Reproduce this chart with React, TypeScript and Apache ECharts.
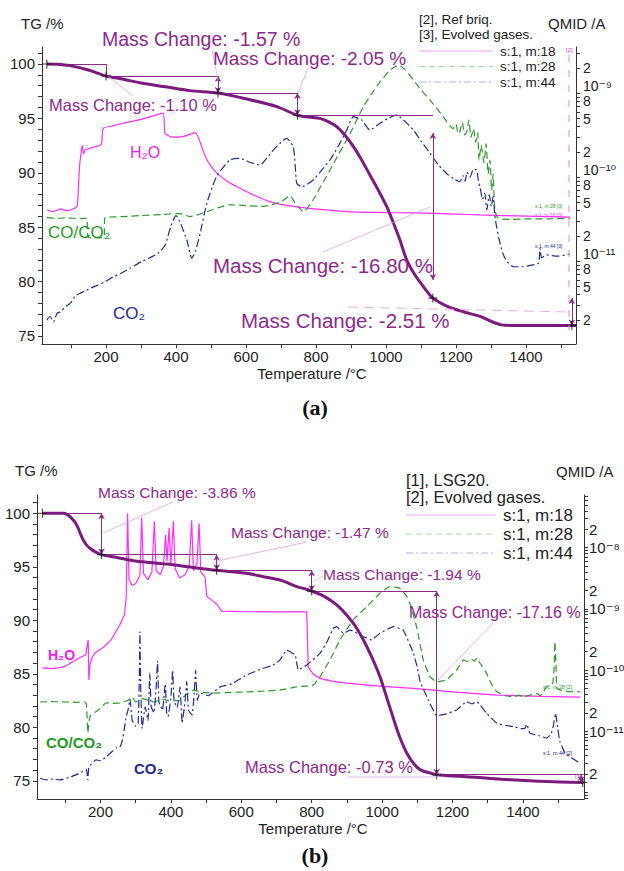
import React, { useEffect, useRef } from 'react';
import * as echarts from 'echarts';

const FONT = '"Liberation Sans", Arial, "DejaVu Sans", sans-serif';

// ---------- Panel (a) data : [temperature °C, value] ----------
const TG_A: [number, number][] = [
  [31, 100], [60, 99.98], [97, 99.85], [150, 99.45], [200, 98.9], [250, 98.6], [300, 98.25], [370, 97.9],
  [440, 97.55], [520, 97.33], [600, 96.8], [688, 96.08], [747, 95.28], [780, 95.12], [811, 95.0], [835, 94.7],
  [859, 94.24], [883, 93.45], [907, 92.4], [930, 91.2], [954, 89.8], [978, 88.4], [1002, 86.9], [1021, 85.4],
  [1040, 83.8], [1059, 82.0], [1083, 80.6], [1110, 79.4], [1134, 78.48], [1177, 77.7], [1223, 77.2],
  [1269, 76.8], [1300, 76.35], [1330, 76.02], [1360, 75.97], [1450, 75.97], [1543, 75.97],
];
const H2O_A: [number, number][] = [
  [31, 4.1e-11], [50, 3.9e-11], [70, 4.2e-11], [90, 4.0e-11], [111, 4.3e-11], [118, 4.6e-11], [124, 1.3e-10],
  [128, 1.84e-10], [132, 2.4e-10], [136, 1.9e-10], [140, 2.1e-10], [160, 2.25e-10], [183, 2.4e-10], [188, 2.6e-10],
  [192, 3.8e-10], [220, 4.1e-10], [250, 4.4e-10], [300, 4.9e-10], [330, 5.3e-10], [363, 5.8e-10], [368, 3.4e-10],
  [380, 3.1e-10], [391, 3.0e-10], [420, 3.05e-10], [445, 3.3e-10], [454, 3.4e-10], [465, 2.9e-10], [483, 1.8e-10],
  [500, 1.35e-10], [517, 1.12e-10], [545, 9.0e-11], [574, 7.7e-11], [620, 6.2e-11], [669, 5.1e-11], [720, 4.6e-11],
  [774, 4.3e-11], [889, 3.9e-11], [1000, 3.8e-11], [1077, 3.76e-11], [1200, 3.65e-11], [1269, 3.56e-11],
  [1400, 3.45e-11], [1526, 3.36e-11],
];
const CO_A: [number, number][] = [
  [31, 3.3e-11], [60, 3.25e-11], [90, 3.3e-11], [120, 3.2e-11], [145, 3.25e-11], [148, 1.95e-11], [175, 1.9e-11],
  [194, 1.95e-11], [197, 3.3e-11], [250, 3.4e-11], [300, 3.5e-11], [360, 3.6e-11], [411, 3.7e-11], [440, 3.4e-11],
  [488, 3.9e-11], [554, 4.7e-11], [600, 4.6e-11], [649, 4.5e-11], [700, 5.1e-11], [726, 6.0e-11], [740, 5.0e-11],
  [764, 3.9e-11], [792, 5.4e-11], [815, 8e-11], [840, 1.22e-10], [865, 1.9e-10], [888, 2.8e-10], [912, 4.4e-10],
  [935, 6.9e-10], [960, 1.0e-9], [983, 1.37e-9], [1010, 1.85e-9], [1035, 2.17e-9], [1055, 1.9e-9], [1078, 1.44e-9],
  [1100, 1.1e-9], [1126, 8.3e-10], [1160, 5.5e-10], [1192, 3.8e-10], [1200, 4.3e-10], [1206, 3.3e-10],
  [1211, 3.5e-10], [1218, 4.5e-10], [1225, 3.2e-10], [1231, 3.5e-10], [1237, 4.8e-10], [1243, 3.0e-10],
  [1250, 3.8e-10], [1256, 2.6e-10], [1262, 3.4e-10], [1266, 1.6e-10], [1272, 2.4e-10], [1280, 1.5e-10],
  [1286, 2.5e-10], [1292, 1.1e-10], [1297, 1.6e-10], [1302, 7e-11], [1306, 1.1e-10], [1311, 4.1e-11],
  [1321, 3.25e-11], [1360, 3.15e-11], [1400, 3.2e-11], [1460, 3.2e-11], [1526, 3.25e-11],
];
const CO2_A: [number, number][] = [
  [31, 2.0e-12], [40, 2.2e-12], [50, 1.9e-12], [60, 2.4e-12], [70, 2.5e-12], [85, 2.9e-12], [99, 3.2e-12],
  [113, 3.9e-12], [128, 4.2e-12], [143, 4.5e-12], [157, 4.8e-12], [177, 5.2e-12], [197, 5.7e-12], [220, 6.5e-12],
  [243, 7.2e-12], [270, 8.3e-12], [301, 9.9e-12], [325, 1.1e-11], [348, 1.24e-11], [369, 1.56e-11], [385, 2.6e-11],
  [400, 3.5e-11], [411, 2.96e-11], [431, 1.79e-11], [445, 1.09e-11], [455, 1.3e-11], [469, 2.15e-11], [488, 4.9e-11],
  [516, 1.02e-10], [554, 1.61e-10], [583, 1.68e-10], [612, 1.5e-10], [640, 1.4e-10], [660, 1.7e-10], [678, 2.11e-10],
  [700, 2.6e-10], [716, 2.91e-10], [735, 2.31e-10], [741, 1.3e-10], [745, 8.5e-11], [759, 7.7e-11], [792, 9.3e-11],
  [815, 1.2e-10], [840, 1.61e-10], [865, 2.4e-10], [888, 3.66e-10], [907, 5.26e-10], [931, 4.81e-10],
  [954, 3.66e-10], [983, 4.4e-10], [1005, 5.0e-10], [1030, 5.51e-10], [1055, 4.6e-10], [1078, 3.66e-10],
  [1100, 2.7e-10], [1126, 1.93e-10], [1150, 1.4e-10], [1173, 1.11e-10], [1195, 9.5e-11], [1211, 8.85e-11],
  [1220, 1.05e-10], [1226, 9.0e-11], [1232, 1.15e-10], [1240, 1.0e-10], [1250, 1.25e-10], [1259, 1.22e-10],
  [1264, 9e-11], [1269, 7.45e-11], [1276, 5.5e-11], [1282, 6.5e-11], [1288, 4.1e-11], [1295, 6.2e-11],
  [1301, 4.5e-11], [1306, 5.9e-11], [1311, 3.5e-11], [1316, 2.58e-11], [1325, 1.7e-11], [1334, 1.24e-11],
  [1345, 1.0e-11], [1364, 8.6e-12], [1392, 8.6e-12], [1415, 9.0e-12], [1436, 9.5e-12], [1440, 1.43e-11],
  [1445, 1.1e-11], [1459, 1.19e-11], [1490, 1.15e-11], [1526, 1.22e-11],
];
// mass-change construction (a): levels [t1, t2, value], arrows [t, from, to], points [t, value]
const LEVELS_A: [number, number, number][] = [
  [31, 200, 100], [200, 520, 98.9], [520, 747, 97.33], [747, 1134, 95.28], [1134, 1543, 78.48],
];
const TICKS_A: [number, number, number][] = [[200, 100, 98.9]];
const ARROWS_A: [number, number, number][] = [
  [520, 98.9, 97.33], [747, 97.33, 95.28], [1134, 93.65, 80.15], [1531, 78.48, 75.97],
];
const POINTS_A: [number, number][] = [[31, 100], [200, 98.9], [520, 97.33], [747, 95.28], [1134, 78.48], [1531, 75.97]];
const MC_A = [-1.10, -1.57, -2.05, -16.80, -2.51];

// ---------- Panel (b) data ----------
const TG_B: [number, number][] = [
  [35, 100], [94, 100], [105, 99.9], [118, 99.53], [128, 99.15], [137, 98.6], [144, 98.0], [151, 97.5], [160, 97.05],
  [170, 96.73], [185, 96.4], [203, 96.14], [250, 95.85], [293, 95.57], [340, 95.4], [388, 95.26], [460, 94.95],
  [530, 94.67], [615, 94.39], [660, 94.1], [710, 93.77], [735, 93.45], [757, 93.14], [780, 92.95], [800, 92.73],
  [826, 92.4], [852, 91.9], [876, 91.3], [899, 90.5], [923, 89.5], [947, 88.16], [970, 86.6], [994, 84.73],
  [1013, 82.8], [1032, 80.84], [1050, 79.1], [1070, 77.6], [1090, 76.6], [1110, 76.0], [1140, 75.7], [1155, 75.57],
  [1220, 75.42], [1278, 75.3], [1340, 75.15], [1392, 75.05], [1450, 74.95], [1505, 74.9], [1573, 74.84],
];
const H2O_B: [number, number][] = [
  [35, 1.08e-10], [60, 1.05e-10], [80, 1.08e-10], [100, 1.15e-10], [120, 1.35e-10], [142, 1.6e-10], [158, 1.76e-10],
  [162, 2.5e-10], [165, 3.1e-10], [167, 6.9e-11], [170, 1.2e-10], [176, 1.6e-10], [184, 1.9e-10], [210, 2.4e-10],
  [230, 3.1e-10], [255, 5.5e-10], [268, 8e-10], [273, 1.5e-9], [277, 3.6e-8], [281, 3.0e-9], [290, 2.4e-9],
  [300, 2.6e-9], [312, 3.5e-9], [317, 3.1e-8], [322, 3.8e-9], [335, 3.0e-9], [346, 4.0e-9], [353, 2.7e-8],
  [358, 4.2e-9], [370, 3.6e-9], [379, 5e-9], [385, 1.6e-8], [389, 6e-9], [395, 2.1e-8], [400, 5e-9], [407, 2.7e-8],
  [412, 4.5e-9], [425, 3.2e-9], [440, 3.6e-9], [452, 5e-9], [459, 2.8e-8], [464, 4.2e-9], [474, 5.5e-9],
  [480, 2.5e-8], [485, 4e-9], [497, 3.3e-9], [502, 1.6e-9], [515, 1.4e-9], [530, 1.2e-9], [544, 9.2e-10],
  [600, 9.0e-10], [700, 8.9e-10], [786, 8.9e-10], [790, 1.13e-10], [805, 8.5e-11], [824, 7.3e-11], [860, 6.5e-11],
  [899, 6.1e-11], [1000, 5.4e-11], [1089, 5.0e-11], [1200, 4.4e-11], [1326, 3.9e-11], [1450, 3.7e-11],
  [1563, 3.6e-11],
];
const CO_B: [number, number][] = [
  [28, 3.0e-11], [60, 3.05e-11], [100, 3.0e-11], [130, 2.95e-11], [155, 3.0e-11], [160, 2.8e-11], [164, 9.4e-12],
  [168, 1.5e-11], [172, 1.84e-11], [193, 2.2e-11], [216, 2.9e-11], [240, 2.85e-11], [255, 2.9e-11], [278, 3.2e-11],
  [290, 3.6e-11], [300, 3.0e-11], [320, 3.4e-11], [350, 3.0e-11], [380, 3.3e-11], [400, 3.1e-11], [426, 3.24e-11],
  [445, 4.0e-11], [464, 4.7e-11], [490, 4.3e-11], [520, 4.2e-11], [570, 4.3e-11], [615, 4.4e-11], [660, 4.5e-11],
  [710, 4.7e-11], [757, 5.3e-11], [790, 5.5e-11], [805, 5.7e-11], [824, 7.8e-11], [852, 1.46e-10], [880, 3.1e-10],
  [918, 6.6e-10], [956, 1.08e-9], [994, 1.8e-9], [1022, 2.3e-9], [1051, 2.16e-9], [1070, 1.6e-9], [1079, 1.23e-9],
  [1098, 5.1e-10], [1117, 1.46e-10], [1136, 7.8e-11], [1155, 6.4e-11], [1183, 6.9e-11], [1212, 1.0e-10],
  [1231, 1.46e-10], [1245, 1.37e-10], [1255, 1.5e-10], [1262, 1.4e-10], [1269, 1.56e-10], [1278, 1.3e-10],
  [1297, 8.8e-11], [1310, 6e-11], [1326, 4.4e-11], [1350, 3.8e-11], [1373, 3.66e-11], [1390, 3.9e-11],
  [1400, 3.6e-11], [1420, 3.9e-11], [1440, 4.1e-11], [1450, 3.8e-11], [1467, 5.3e-11], [1485, 6.1e-11],
  [1489, 1.2e-10], [1491, 2.9e-10], [1494, 1.2e-10], [1497, 5.0e-11], [1520, 4.5e-11], [1563, 4.4e-11],
];
const CO2_B: [number, number][] = [
  [28, 1.7e-12], [45, 1.6e-12], [60, 1.65e-12], [85, 1.6e-12], [110, 1.75e-12], [130, 1.93e-12], [150, 2.2e-12],
  [160, 2.4e-12], [164, 1.6e-12], [167, 2.6e-12], [187, 3.4e-12], [200, 3.3e-12], [216, 3.8e-12], [244, 5.3e-12],
  [255, 5.5e-12], [262, 7e-12], [267, 1.05e-11], [272, 1.6e-11], [278, 2.2e-11], [284, 3.3e-11], [290, 1.5e-11],
  [300, 1.2e-11], [307, 1.35e-11], [310, 6e-11], [312, 4.2e-10], [314, 6e-11], [318, 1.1e-11], [327, 2.5e-11],
  [335, 1.5e-11], [340, 9e-11], [344, 2.5e-11], [352, 2.0e-11], [358, 5e-11], [362, 1.4e-10], [366, 3e-11],
  [376, 2.2e-11], [384, 6e-11], [388, 2e-11], [392, 1.73e-11], [400, 3.5e-11], [405, 1.0e-10], [409, 3.2e-11],
  [418, 2.4e-11], [426, 5.3e-11], [432, 1.35e-11], [440, 3e-11], [445, 6.5e-11], [450, 2.2e-11], [460, 1.84e-11],
  [466, 4e-11], [470, 1.0e-10], [475, 3.2e-11], [483, 4.2e-11], [506, 3.8e-11], [540, 5.3e-11], [575, 6.0e-11],
  [615, 8.3e-11], [663, 1.07e-10], [690, 1.2e-10], [710, 1.46e-10], [729, 2.12e-10], [753, 1.76e-10],
  [762, 1.0e-10], [786, 1.21e-10], [824, 1.88e-10], [845, 3e-10], [861, 4.8e-10], [871, 5.1e-10], [890, 4.0e-10],
  [909, 4.5e-10], [947, 3.5e-10], [970, 3.1e-10], [994, 4.0e-10], [1032, 5.1e-10], [1060, 4.5e-10],
  [1089, 1.88e-10], [1100, 1.1e-10], [1108, 6.5e-11], [1127, 3.66e-11], [1155, 1.8e-11], [1180, 1.9e-11],
  [1212, 2.22e-11], [1240, 3.03e-11], [1255, 2.8e-11], [1269, 3.03e-11], [1297, 1.96e-11], [1326, 1.35e-11],
  [1350, 1.25e-11], [1373, 1.19e-11], [1395, 1.1e-11], [1406, 1.12e-11], [1411, 1.3e-11], [1420, 9.3e-12],
  [1445, 8.5e-12], [1467, 7.7e-12], [1480, 9e-12], [1486, 1.19e-11], [1493, 1.96e-11], [1499, 1.1e-11],
  [1505, 6.8e-12], [1520, 4.4e-12], [1540, 3.6e-12], [1563, 3.0e-12],
];
const LEVELS_B: [number, number, number][] = [
  [35, 203, 100], [203, 530, 96.14], [530, 800, 94.67], [800, 1155, 92.73], [1155, 1573, 75.57],
];
const ARROWS_B: [number, number, number][] = [
  [203, 100, 96.14], [530, 96.14, 94.67], [800, 94.67, 92.73], [1155, 92.73, 75.57], [1565, 75.57, 74.84],
];
const POINTS_B: [number, number][] = [[35, 100], [203, 96.14], [530, 94.67], [800, 92.73], [1155, 75.57], [1570, 74.84]];
const MC_B = [-3.86, -1.47, -1.94, -17.16, -0.73];

// ---------- axes ----------
const X_LABELS = [200, 400, 600, 800, 1000, 1200, 1400];
const X_TICKS = [100, 200, 300, 400, 500, 600, 700, 800, 900, 1000, 1100, 1200, 1300, 1400, 1500];
const TG_LABELS = [75, 80, 85, 90, 95, 100];
const TG_TICKS = Array.from({ length: 27 }, (_, i) => 75 + i);
const QMID_A_LABELS = [2e-12, 5e-12, 8e-12, 1e-11, 2e-11, 5e-11, 8e-11, 1e-10, 2e-10, 5e-10, 8e-10, 1e-9, 2e-9];
const QMID_B_LABELS = [2e-12, 1e-11, 2e-11, 1e-10, 2e-10, 1e-9, 2e-9, 1e-8, 2e-8];
const QMID_DECADES = [-13, -12, -11, -10, -9, -8, -7];
const MANTISSAS = [1, 2, 3, 4, 5, 6, 7, 8, 9];

const PURPLE = '#7b1b7e';
const PTXT = '#8c2a8c';
const MAG = '#ff2bff';
const GRN = '#2e982e';
const NAVY = '#232d8e';
const LEAD = '#dca6dc';
const AX = '#333';

const SUP: Record<string, string> = { '-': '⁻', '0': '⁰', '1': '¹', '2': '²', '3': '³', '4': '⁴', '5': '⁵', '6': '⁶', '7': '⁷', '8': '⁸', '9': '⁹' };
const supStr = (n: number) => String(n).split('').map((c) => SUP[c] || c).join('');
const splitLog = (val: number) => {
  let n = Math.floor(val + 1e-6);
  let m = Math.round(Math.pow(10, val - n));
  if (m === 10) { m = 1; n += 1; }
  return { n, m };
};
const logFmt = (val: number) => {
  const { n, m } = splitLog(val);
  return m === 1 ? '10' + supStr(n) : String(m);
};
// panel (a): decade labels raised above their tick, as in the reference
const logFmtRich = (val: number) => {
  const { n, m } = splitLog(val);
  if (m === 1) return `{hi|10${supStr(n)}}`;
  return `{n|${m}}`;
};
const toLog = (arr: [number, number][]) => arr.map(([t, v]) => [t, Math.log10(v)]);
const logTicks = (lo: number, hi: number) => {
  const out: number[] = [];
  QMID_DECADES.forEach((n) => MANTISSAS.forEach((m) => { const v = n + Math.log10(m); if (v >= lo && v <= hi) out.push(v); }));
  return out;
};
const mcText = (v: number) => `Mass Change: ${v.toFixed(2)} %`;

function stepMarks(levels: [number, number, number][], arrows: [number, number, number][], ticks: [number, number, number][] = []) {
  const data: any[] = [];
  levels.forEach(([t1, t2, v]) => data.push([{ coord: [t1, v] }, { coord: [t2, v] }]));
  ticks.forEach(([t, a, b]) => data.push([{ coord: [t, a] }, { coord: [t, b] }]));
  arrows.forEach(([t, a, b]) => data.push([
    { coord: [t, a], symbol: 'arrow', symbolSize: [5, 6] },
    { coord: [t, b], symbol: 'arrow', symbolSize: [5, 6] },
  ]));
  return {
    silent: true, symbol: ['none', 'none'], animation: false,
    lineStyle: { color: PTXT, width: 1, type: 'solid', opacity: 1 },
    label: { show: false }, emphasis: { disabled: true }, data,
  };
}

const CROSS = 'path://M4.4,0H5.6V4.4H10V5.6H5.6V10H4.4V5.6H0V4.4H4.4Z';

function xAxis(grid: number, min: number, max: number) {
  return {
    type: 'value', gridIndex: grid, min, max,
    axisLine: { show: true, onZero: false, lineStyle: { color: AX, width: 1 } },
    axisTick: { show: true, length: 4, customValues: X_TICKS, lineStyle: { color: AX } },
    axisLabel: {
      customValues: X_LABELS, margin: 5, fontSize: 15, color: '#222', fontFamily: FONT,
      formatter: (v: number) => String(Math.round(v)),
    },
    splitLine: { show: false },
  };
}
function tgAxis(grid: number, min: number, max: number) {
  return {
    type: 'value', gridIndex: grid, min, max, position: 'left',
    axisLine: { show: true, onZero: false, lineStyle: { color: AX, width: 1 } },
    axisTick: { show: true, length: 4, customValues: TG_TICKS, lineStyle: { color: AX } },
    axisLabel: {
      customValues: TG_LABELS, margin: 7, fontSize: 15, color: '#222', fontFamily: FONT,
      formatter: (v: number) => String(Math.round(v)),
    },
    splitLine: { show: false },
  };
}
function msAxis(grid: number, min: number, max: number, labels: number[], margin: number, rich: boolean) {
  const base = { fontSize: rich ? 14 : 15, color: '#222', fontFamily: FONT };
  return {
    type: 'value', gridIndex: grid, min, max, position: 'right',
    axisLine: { show: true, onZero: false, lineStyle: { color: AX, width: 1 } },
    axisTick: { show: true, length: 4, customValues: logTicks(min, max), lineStyle: { color: AX } },
    axisLabel: {
      customValues: labels.map((v) => Math.log10(v)), margin, ...base,
      formatter: (v: number) => (rich ? logFmtRich(v) : logFmt(v)),
      rich: {
        hi: { ...base, padding: [0, 0, 14, 0] },
        n: { ...base },
      },
    },
    splitLine: { show: false },
  };
}
function msSeries(name: string, data: [number, number][], x: number, y: number, color: string, type: any, smooth: number) {
  return {
    name, type: 'line', xAxisIndex: x, yAxisIndex: y, data: toLog(data), showSymbol: false, symbol: 'none',
    smooth, lineStyle: { color, width: 1.2, type }, z: 2, silent: true,
  };
}

const txt = (x: number, y: number, text: string, size: number, color: string, weight = 'normal', align = 'left', family = FONT) => ({
  type: 'text', x, y, silent: true, z: 50,
  style: { text, fill: color, font: `${weight} ${size}px ${family}`, align, verticalAlign: 'middle' },
});
const ln = (x1: number, y1: number, x2: number, y2: number, color: string, w = 1, dash?: number[]) => ({
  type: 'line', silent: true, z: 40, shape: { x1, y1, x2, y2 },
  style: { stroke: color, lineWidth: w, lineDash: dash },
});

export default function App() {
  const ref = useRef<HTMLDivElement>(null);
  useEffect(() => {
    document.body.style.margin = '0';
    if (!ref.current) return;
    const chart = echarts.init(ref.current, undefined, { renderer: 'svg' });
    const option: any = {
      animation: false,
      backgroundColor: '#fff',
      textStyle: { fontFamily: FONT },
      grid: [
        { left: 42, top: 47, width: 534, height: 297, outerBoundsMode: 'none', containLabel: false },
        { left: 37, top: 495, width: 547, height: 304, outerBoundsMode: 'none', containLabel: false },
      ],
      xAxis: [xAxis(0, 17.1, 1542.9), xAxis(1, 19.6, 1573.6)],
      yAxis: [
        tgAxis(0, 74.26, 101.56),
        msAxis(0, -11.985, -8.449, QMID_A_LABELS, 7, true),
        tgAxis(1, 73.3, 101.71),
        msAxis(1, -12.108, -7.14, QMID_B_LABELS, 5, false),
      ],
      series: [
        msSeries('s:1, m:18', H2O_A, 0, 1, MAG, 'solid', 0.2),
        msSeries('s:1, m:28', CO_A, 0, 1, GRN, [7, 4], 0.2),
        msSeries('s:1, m:44', CO2_A, 0, 1, NAVY, [8, 3, 2, 3], 0.2),
        {
          name: 'TG (a)', type: 'line', xAxisIndex: 0, yAxisIndex: 0, data: TG_A, showSymbol: false, symbol: 'none',
          smooth: 0.3, lineStyle: { color: PURPLE, width: 3 }, z: 5, silent: true,
          markLine: stepMarks(LEVELS_A, ARROWS_A, TICKS_A),
        },
        {
          name: 'steps (a)', type: 'scatter', xAxisIndex: 0, yAxisIndex: 0, data: POINTS_A, symbol: CROSS,
          symbolSize: 9, itemStyle: { color: '#111' }, z: 8, silent: true,
        },
        msSeries('s:1, m:18 ', H2O_B, 1, 3, MAG, 'solid', 0),
        msSeries('s:1, m:28 ', CO_B, 1, 3, GRN, [7, 4], 0.1),
        msSeries('s:1, m:44 ', CO2_B, 1, 3, NAVY, [8, 3, 2, 3], 0.1),
        {
          name: 'TG (b)', type: 'line', xAxisIndex: 1, yAxisIndex: 2, data: TG_B, showSymbol: false, symbol: 'none',
          smooth: 0.3, lineStyle: { color: PURPLE, width: 3 }, z: 5, silent: true,
          markLine: stepMarks(LEVELS_B, ARROWS_B),
        },
        {
          name: 'steps (b)', type: 'scatter', xAxisIndex: 1, yAxisIndex: 2, data: POINTS_B, symbol: CROSS,
          symbolSize: 9, itemStyle: { color: '#111' }, z: 8, silent: true,
        },
      ],
      graphic: [
        // ---- panel (a) ----
        txt(21, 23, 'TG /%', 15, '#222'),
        txt(548, 23, 'QMID /A', 15, '#222'),
        txt(419, 19, '[2], Ref briq.', 13.5, '#222'),
        txt(419, 34, '[3], Evolved gases.', 13.5, '#222'),
        ln(419, 51, 493, 51, '#f2a2f2', 1.2),
        ln(419, 66.5, 493, 66.5, '#a6d8a6', 1.2, [6, 4]),
        ln(419, 82, 493, 82, '#b2b2e6', 1.2, [7, 3, 2, 3]),
        txt(500, 51, 's:1, m:18', 13.5, '#222'),
        txt(500, 66.5, 's:1, m:28', 13.5, '#222'),
        txt(500, 82, 's:1, m:44', 13.5, '#222'),
        txt(102, 39, mcText(MC_A[1]), 19.5, PTXT),
        txt(213, 58, mcText(MC_A[2]), 19, PTXT),
        txt(49, 105, mcText(MC_A[0]), 16.5, PTXT),
        txt(213, 265, mcText(MC_A[3]), 20.5, PTXT),
        txt(241, 320, mcText(MC_A[4]), 20.5, PTXT),
        ln(212, 50, 218, 80, LEAD, 0.8),
        ln(308, 68, 298, 93, LEAD, 0.8),
        ln(108, 76, 133, 96, LEAD, 0.8),
        ln(323, 252, 430, 207, LEAD, 0.8),
        ln(348, 307, 570, 312, '#e6b0e6', 1, [10, 6]),
        ln(569, 55, 569, 330, '#d28ed2', 1, [7, 8]),
        txt(130, 152, 'H₂O', 16, '#f020f0'),
        txt(48, 232, 'CO/CO₂', 17, '#249a24'),
        txt(113, 313, 'CO₂', 17, '#1c2a8e'),
        txt(566, 50, '[2]', 6, '#c040c0'),
        txt(535, 206, 's:1, m:28 [3]', 5, GRN),
        txt(535, 215, 's:1, m:18 [3]', 5, MAG),
        txt(535, 246, 's:1, m:44 [3]', 5, NAVY),
        txt(312, 373, 'Temperature /°C', 15, '#222', 'normal', 'center'),
        txt(315, 407, '(a)', 22, '#111', 'bold', 'center', '"Liberation Serif", "Times New Roman", serif'),
        // ---- panel (b) ----
        txt(15, 470, 'TG /%', 15, '#222'),
        txt(556, 471, 'QMID /A', 15, '#222'),
        txt(406, 480, '[1], LSG20.', 16.5, '#222'),
        txt(406, 497, '[2], Evolved gases.', 16.5, '#222'),
        ln(406, 515, 496, 515, '#f2a2f2', 1.2),
        ln(406, 534, 496, 534, '#a6d8a6', 1.2, [6, 4]),
        ln(406, 553, 496, 553, '#b2b2e6', 1.2, [7, 3, 2, 3]),
        txt(503, 515, 's:1, m:18', 17, '#222'),
        txt(503, 534, 's:1, m:28', 17, '#222'),
        txt(503, 553, 's:1, m:44', 17, '#222'),
        txt(98, 492, mcText(MC_B[0]), 15.5, PTXT),
        txt(231, 532, mcText(MC_B[1]), 15.5, PTXT),
        txt(323, 574, mcText(MC_B[2]), 15.5, PTXT),
        txt(409, 612, mcText(MC_B[3]), 16, PTXT),
        txt(245, 767, mcText(MC_B[4]), 16.5, PTXT),
        ln(103, 533, 173, 502, LEAD, 0.8),
        ln(217, 561, 307, 542, LEAD, 0.8),
        ln(313, 582, 323, 576, LEAD, 0.8),
        ln(438, 680, 493, 623, LEAD, 0.8),
        ln(348, 777, 437, 777, LEAD, 0.8),
        txt(48, 655, 'H₂O', 14, '#f020f0', 'bold'),
        txt(46, 742, 'CO/CO₂', 15, '#249a24', 'bold'),
        txt(134, 768, 'CO₂', 15, '#1c2a8e', 'bold'),
        txt(543, 687, 's:1, m:28 [2]', 5.3, GRN),
        txt(543, 753, 's:1, m:44 [2]', 5.3, NAVY),
        txt(575, 776, '[1]', 6, '#c040c0'),
        txt(313, 828, 'Temperature /°C', 15, '#222', 'normal', 'center'),
        txt(315, 855, '(b)', 22, '#111', 'bold', 'center', '"Liberation Serif", "Times New Roman", serif'),
      ],
    };
    chart.setOption(option);
    return () => chart.dispose();
  }, []);
  return <div ref={ref} style={{ width: 624, height: 871, position: 'absolute', left: 0, top: 0 }} />;
}
